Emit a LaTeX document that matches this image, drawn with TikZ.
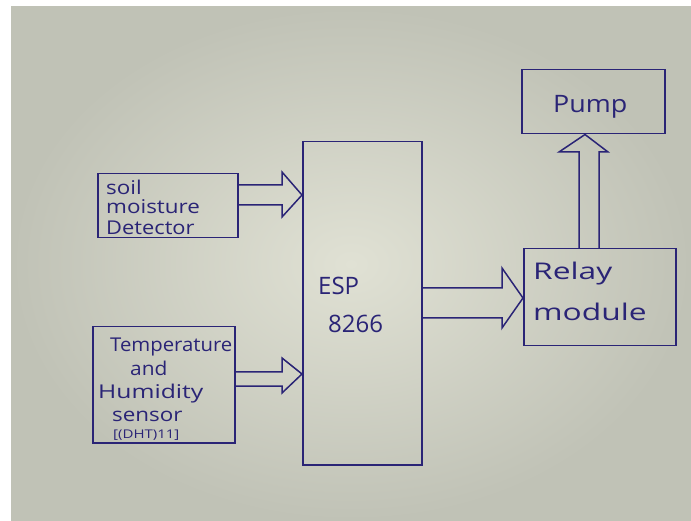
\documentclass[tikz,border=0pt]{standalone}
\usepackage{fontspec}
\usepackage{graphicx}
\newfontfamily\hand{Open Sans}
\usetikzlibrary{calc}
\definecolor{ink}{RGB}{42,36,118}
\definecolor{paperin}{RGB}{224,225,212}
\definecolor{paperout}{RGB}{192,194,182}
\newcommand\sx[2]{\scalebox{#1}[1]{#2}}
\begin{document}
\begin{tikzpicture}[x=1pt,y=-1pt,
  box/.style={draw=ink, line width=1.5pt, inner sep=0pt, anchor=north west},
  conn/.style={draw=ink, line width=1.5pt, line join=miter},
  lbl/.style={text=ink, font=\hand\fontsize{#1}{#1}\selectfont, inner sep=0pt, anchor=base west}]
\useasboundingbox (0,0) rectangle (691,521);
\shade[inner color=paperin, outer color=paperout] (11,7) rectangle (691,521);

% boxes
\node[box, minimum width=140pt, minimum height=64pt]  (soil)  at (97,173) {};
\node[box, minimum width=142pt, minimum height=116pt] (temp)  at (92,326) {};
\node[box, minimum width=119pt, minimum height=323pt] (esp)   at (302,141) {};
\node[box, minimum width=152pt, minimum height=97pt]  (relay) at (523,248) {};
\node[box, minimum width=143pt, minimum height=64pt]  (pump)  at (521,69) {};

% labels
\node[lbl=19] (t1) at (106,195) {\sx{1.18}{soil}};
\node[lbl=19] (t2) at (106,214) {\sx{1.18}{moisture}};
\node[lbl=19] (t3) at (106,235) {\sx{1.15}{Detector}};
\node[lbl=19] (t4) at (110,352) {\sx{1.07}{Temperature}};
\node[lbl=19] (t5) at (130,375) {\sx{1.1}{and}};
\node[lbl=19] (t6) at (98,398)  {\sx{1.3}{Humidity}};
\node[lbl=19] (t7) at (112,421) {\sx{1.18}{sensor}};
\node[lbl=12] (t8) at (113,438) {\sx{1.25}{[(DHT)11]}};
\node[lbl=24] (t9) at (318,295) {ESP};
\node[lbl=24] (t10) at (328,333) {8266};
\node[lbl=23] (t11) at (533,280) {\sx{1.38}{Relay}};
\node[lbl=23] (t12) at (533,321) {\sx{1.38}{module}};
\node[lbl=24] (t13) at (553,113) {\sx{1.12}{Pump}};

% block arrows
\draw[conn] (soil.east |- 0,185) -- (282,185) -- (282,172) -- (esp.west |- 0,195)
  -- (282,217) -- (282,205) -- (soil.east |- 0,205);
\draw[conn] (temp.east |- 0,372) -- (282,372) -- (282,358) -- (esp.west |- 0,374)
  -- (282,393) -- (282,386) -- (temp.east |- 0,386);
\draw[conn] (esp.east |- 0,288) -- (502,288) -- (502,268) -- (relay.west |- 0,298)
  -- (502,328) -- (502,318) -- (esp.east |- 0,318);
\draw[conn] (relay.north -| 579,0) -- (579,152) -- (559,152) -- (pump.south -| 585,0)
  -- (608,152) -- (599,152) -- (relay.north -| 599,0);
\end{tikzpicture}
\end{document}
